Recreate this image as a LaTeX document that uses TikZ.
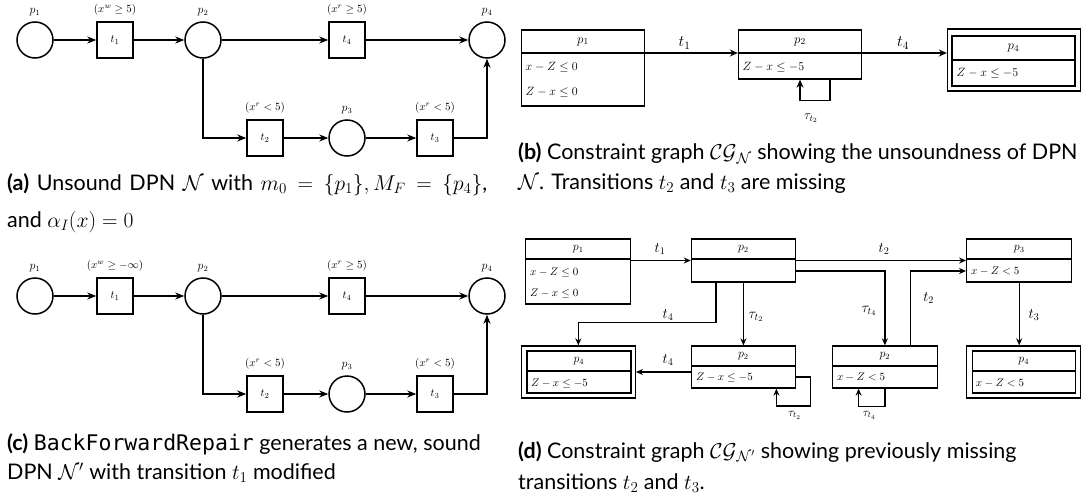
\RequirePackage{fix-cm}
\documentclass[tikz,border=0pt]{standalone}
\usepackage[no-math]{fontspec}
\setmainfont{Lato}
\setmonofont{DejaVu Sans Mono}
\usetikzlibrary{arrows.meta}
\tikzset{
 place/.style={circle,draw,line width=1.5pt,minimum size=36pt,inner sep=0pt},
 trans/.style={draw,line width=1.5pt,minimum size=36pt,inner sep=0pt,font=\fontsize{11}{13}\selectfont},
 parc/.style={-{Stealth[length=9pt,width=7pt]},line width=1.5pt},
 guard/.style={font=\fontsize{11}{13}\selectfont,inner sep=0pt},
 plab/.style={font=\fontsize{12}{14}\selectfont,inner sep=0pt},
 cgbox/.style={draw,line width=1.3pt,inner sep=0pt},
 hdrb/.style={font=\fontsize{13}{15}\selectfont,inner sep=0pt},
 rowb/.style={font=\fontsize{12}{14}\selectfont,inner sep=0pt,anchor=west},
 hdr/.style={font=\fontsize{12}{14}\selectfont,inner sep=0pt},
 rowtxt/.style={font=\fontsize{11}{13}\selectfont,inner sep=0pt,anchor=west},
 carc/.style={-{Stealth[length=8pt,width=7pt]},line width=1.3pt},
 darc/.style={-{Stealth[length=7pt,width=6pt]},line width=1.2pt},
 clab/.style={font=\fontsize{16}{18}\selectfont,inner sep=0pt},
 slab/.style={font=\fontsize{14.5}{16}\selectfont,inner sep=0pt},
 tlab/.style={font=\fontsize{13}{15}\selectfont,inner sep=0pt},
 captxt/.style={font=\fontsize{21.5}{25}\selectfont,inner sep=0pt,anchor=base west},
}
\newcommand\dpnnet[3]{%
\begin{scope}[yshift=-#2pt]
 \node[place] (#1p1) at (35,40) {};
 \node[trans] (#1t1) at (115,40) {$t_1$};
 \node[place] (#1p2) at (203,40) {};
 \node[trans] (#1t4) at (347,40) {$t_4$};
 \node[place] (#1p4) at (487,40) {};
 \node[trans] (#1t2) at (265,138) {$t_2$};
 \node[place] (#1p3) at (347,138) {};
 \node[trans] (#1t3) at (435,138) {$t_3$};
 \node[plab] (#1l1) at (35,12) {$p_1$};
 \node[guard] (#1g1) at (115,10) {#3};
 \node[plab] (#1l2) at (203,12) {$p_2$};
 \node[guard] (#1g4) at (347,10) {$(x^r \geq 5)$};
 \node[plab] (#1l4) at (487,12) {$p_4$};
 \node[guard] (#1g2) at (265,108) {$(x^r < 5)$};
 \node[plab] (#1l3) at (347,110) {$p_3$};
 \node[guard] (#1g3) at (435,108) {$(x^r < 5)$};
 \draw[parc] (#1p1) -- (#1t1);
 \draw[parc] (#1t1) -- (#1p2);
 \draw[parc] (#1p2) -- (#1t4);
 \draw[parc] (#1t4) -- (#1p4);
 \draw[parc] (#1p2.south) |- (#1t2.west);
 \draw[parc] (#1t2) -- (#1p3);
 \draw[parc] (#1p3) -- (#1t3);
 \draw[parc] (#1t3.east) -| (#1p4.south);
\end{scope}}
\begin{document}
\begin{tikzpicture}[x=1pt,y=-1pt]
\useasboundingbox (0,0) rectangle (1089,500);
% (a) and (c)
\dpnnet{a}{0}{$(x^w \geq 5)$}
\dpnnet{c}{256}{$(x^w \geq -\infty)$}
% (b)
\node[cgbox,minimum width=123pt,minimum height=76pt] (b1) at (583,68) {};
\draw[line width=1.3pt] (521.5,53) -- (644.5,53);
\node[hdrb] (b1h) at (583,41.5) {$p_1$};
\node[rowb] (b1r1) at (525.5,67) {$x - Z \leq 0$};
\node[rowb] (b1r2) at (525.5,92) {$Z - x \leq 0$};
\node[cgbox,minimum width=123pt,minimum height=49pt] (b2) at (800,54.5) {};
\draw[line width=1.3pt] (738.5,53) -- (861.5,53);
\node[hdrb] (b2h) at (800,41.5) {$p_2$};
\node[rowb] (b2r1) at (742.5,67) {$Z - x \leq -5$};
\node[cgbox,minimum width=133pt,minimum height=62pt] (b4) at (1014,60) {};
\node[cgbox,minimum width=123pt,minimum height=50pt] (b4i) at (1013.5,61) {};
\draw[line width=1.3pt] (952,60) -- (1075,60);
\node[hdrb] (b4h) at (1013.5,48) {$p_4$};
\node[rowb] (b4r1) at (956.5,73) {$Z - x \leq -5$};
\coordinate (b1o) at (644.5,53);
\draw[carc] (b1o) -- (b1o -| b2.west);
\draw[carc] (b2.east |- b1o) -- (b1o -| b4.west);
\draw[carc] ([xshift=30pt]b2.south) -- ++(0,21) -| (b2.south);
\node[clab] (bt1) at (684.5,43) {$t_1$};
\node[clab] (bt4) at (903,43) {$t_4$};
\node[tlab] (btau) at (811,118) {$\tau_{t_2}$};
% (d)
\node[cgbox,minimum width=105pt,minimum height=65pt] (d1) at (578.3,271.5) {};
\draw[line width=1.3pt] (525.8,259) -- (630.8,259);
\node[hdr] (d1h) at (578.3,249) {$p_1$};
\node[rowtxt] (d1r1) at (530,272) {$x - Z \leq 0$};
\node[rowtxt] (d1r2) at (530,293) {$Z - x \leq 0$};
\node[cgbox,minimum width=104pt,minimum height=43pt] (d2) at (743.4,260.5) {};
\draw[line width=1.3pt] (691.4,259) -- (795.4,259);
\node[hdr] (d2h) at (743.4,249) {$p_2$};
\node[cgbox,minimum width=105pt,minimum height=43pt] (d3) at (1019.2,260.5) {};
\draw[line width=1.3pt] (966.7,259) -- (1071.7,259);
\node[hdr] (d3h) at (1019.2,249) {$p_3$};
\node[rowtxt] (d3r1) at (971,271) {$x - Z < 5$};
\node[cgbox,minimum width=114pt,minimum height=52pt] (d4) at (578.3,372) {};
\node[cgbox,minimum width=104pt,minimum height=42pt] (d4i) at (578.9,372) {};
\draw[line width=1.3pt] (526.9,371) -- (630.9,371);
\node[hdr] (d4h) at (578.9,361) {$p_4$};
\node[rowtxt] (d4r1) at (531,383) {$Z - x \leq -5$};
\node[cgbox,minimum width=104pt,minimum height=42pt] (d5) at (743.4,367) {};
\draw[line width=1.3pt] (691.4,366) -- (795.4,366);
\node[hdr] (d5h) at (743.4,356) {$p_2$};
\node[rowtxt] (d5r1) at (695.8,377) {$Z - x \leq -5$};
\node[cgbox,minimum width=105pt,minimum height=42pt] (d6) at (884.9,367) {};
\draw[line width=1.3pt] (832.4,366) -- (937.4,366);
\node[hdr] (d6h) at (884.9,356) {$p_2$};
\node[rowtxt] (d6r1) at (836.8,377) {$x - Z < 5$};
\node[cgbox,minimum width=114pt,minimum height=52pt] (d7) at (1023.7,372) {};
\node[cgbox,minimum width=103pt,minimum height=42pt] (d7i) at (1023.7,372) {};
\draw[line width=1.3pt] (972.2,371) -- (1075.2,371);
\node[hdr] (d7h) at (1023.7,361) {$p_4$};
\node[rowtxt] (d7r1) at (975.6,383) {$x - Z < 5$};
\draw[darc] (d1.east |- d2.west) -- (d2.west);
\draw[darc] (d2.east) -- (d3.west);
\draw[darc] ([yshift=-10.5pt]d2.east) -| (d6.north);
\draw[darc] (d2.south) -- (d5.north);
\draw[darc] ([xshift=-27.4pt]d2.south) -- ++(0,40) -| (d4.north);
\draw[darc] ([yshift=-5pt]d5.west) -- (d4.east);
\draw[darc] ([yshift=-10pt]d5.east) -- ++(14.6,0) -- ++(0,29) -| ([xshift=33pt]d5.south);
\draw[darc] (d6.south) -- ++(0,18) -| ([xshift=-26.3pt]d6.south);
\draw[darc] ([xshift=25.5pt]d6.north) |- ([yshift=-10.5pt]d3.west);
\draw[darc] (d3.south) -- (d3.south |- d7.north);
\node[slab] (dt1) at (660,249) {$t_1$};
\node[slab] (dt2a) at (884,249) {$t_2$};
\node[slab] (dt4a) at (668,315) {$t_4$};
\node[slab] (dtau2) at (756,317) {$\tau_{t_2}$};
\node[slab] (dtau4) at (869,311) {$\tau_{t_4}$};
\node[slab] (dt2b) at (928.6,298) {$t_2$};
\node[slab] (dt3) at (1034,315) {$t_3$};
\node[slab] (dt4b) at (668,360) {$t_4$};
\node[plab] (dtau2l) at (794.5,415) {$\tau_{t_2}$};
\node[plab] (dtau4l) at (869.3,415) {$\tau_{t_4}$};
% captions
\node[captxt] (capa1) at (7,190) {\makebox[480pt][s]{\textbf{(a)} Unsound DPN $\mathcal{N}$ with $m_0 = \{p_1\}, M_F = \{p_4\}$,}};
\node[captxt] (capa2) at (7,227) {and $\alpha_I(x) = 0$};
\node[captxt] (capb1) at (518,160) {\textbf{(b)} Constraint graph $\mathcal{CG}_{\mathcal{N}}$ showing the unsoundness of DPN};
\node[captxt] (capb2) at (518,189) {$\mathcal{N}$. Transitions $t_2$ and $t_3$ are missing};
\node[captxt] (capc1) at (7,450) {\textbf{(c)} \texttt{BackForwardRepair} generates a new, sound};
\node[captxt] (capc2) at (7,479) {DPN $\mathcal{N}'$ with transition $t_1$ modified};
\node[captxt] (capd1) at (518,458) {\textbf{(d)} Constraint graph $\mathcal{CG}_{\mathcal{N}'}$ showing previously missing};
\node[captxt] (capd2) at (518,489) {transitions $t_2$ and $t_3$.};
\end{tikzpicture}
\end{document}
